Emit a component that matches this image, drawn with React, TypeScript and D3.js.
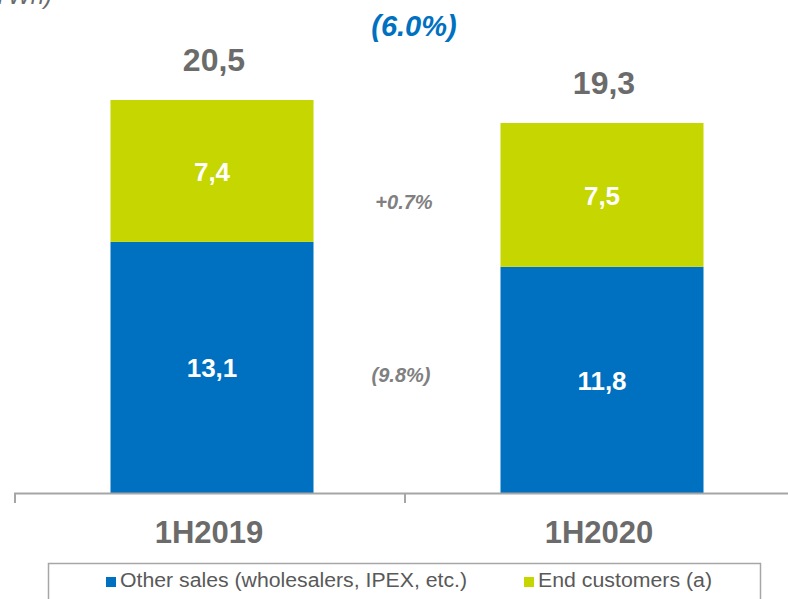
import React, { useEffect, useRef } from 'react'
import * as d3 from 'd3'

const categories = ['1H2019', '1H2020']
const otherSales = [13.1, 11.8]
const endCustomers = [7.4, 7.5]
const totals = [20.5, 19.3]
const seriesNames = ['Other sales (wholesalers, IPEX, etc.)', 'End customers (a)']
const changeTotal = '(6.0%)'
const changeEnd = '+0.7%'
const changeOther = '(9.8%)'

const BLUE = '#0070C0'
const GREEN = '#C5D600'
const GREY = '#6b6b6b'
const FONT = '"Liberation Sans", Arial, sans-serif'

const fmt = (v: number) => v.toFixed(1).replace('.', ',')

const App = () => {
  const ref = useRef<SVGSVGElement | null>(null)

  useEffect(() => {
    const svg = d3.select(ref.current)
    svg.selectAll('*').remove()

    const x = d3.scaleBand().domain(categories).range([14, 794]).padding(0)
    const y = d3.scaleLinear().domain([0, 20.5]).range([493, 100])
    const barW = 203
    const barX = (c: string) => (x(c) as number) + (x.bandwidth() - barW) / 2 + 3

    // unit label cut off at the top
    svg.append('text')
      .attr('x', 52).attr('y', 4)
      .attr('text-anchor', 'end')
      .style('font', `italic 24px ${FONT}`)
      .style('fill', GREY)
      .text('(TWh)')

    // bars
    const g = svg.append('g')
    categories.forEach((c, i) => {
      g.append('rect')
        .attr('x', barX(c)).attr('width', barW)
        .attr('y', y(otherSales[i])).attr('height', y(0) - y(otherSales[i]))
        .style('fill', BLUE)
      g.append('rect')
        .attr('x', barX(c)).attr('width', barW)
        .attr('y', y(otherSales[i] + endCustomers[i]))
        .attr('height', y(otherSales[i]) - y(otherSales[i] + endCustomers[i]))
        .style('fill', GREEN)

      const cx = barX(c) + barW / 2
      g.append('text')
        .attr('x', cx).attr('y', (y(0) + y(otherSales[i])) / 2 + 10)
        .attr('text-anchor', 'middle')
        .style('font', `bold 26px ${FONT}`).style('fill', '#fff')
        .text(fmt(otherSales[i]))
      g.append('text')
        .attr('x', cx).attr('y', (y(otherSales[i]) + y(otherSales[i] + endCustomers[i])) / 2 + 10)
        .attr('text-anchor', 'middle')
        .style('font', `bold 26px ${FONT}`).style('fill', '#fff')
        .text(fmt(endCustomers[i]))
      g.append('text')
        .attr('x', cx + 2).attr('y', y(totals[i]) - 29)
        .attr('text-anchor', 'middle')
        .style('font', `bold 32px ${FONT}`).style('fill', GREY)
        .text(fmt(totals[i]))

      g.append('text')
        .attr('x', (x(c) as number) + x.bandwidth() / 2).attr('y', 543)
        .attr('text-anchor', 'middle')
        .style('font', `bold 31px ${FONT}`).style('fill', GREY)
        .text(c)
    })

    // axis
    svg.append('line')
      .attr('x1', 14).attr('x2', 788).attr('y1', 493.5).attr('y2', 493.5)
      .style('stroke', '#a6a6a6').style('stroke-width', 2)
    categories.concat(['end']).forEach((c, i) => {
      const tx = i < categories.length ? (x(c) as number) : 794
      svg.append('line')
        .attr('x1', tx + 1).attr('x2', tx + 1).attr('y1', 493).attr('y2', 503)
        .style('stroke', '#a6a6a6').style('stroke-width', 2)
    })

    // change annotations
    const midX = x(categories[1]) as number
    svg.append('text')
      .attr('x', 414).attr('y', 36).attr('text-anchor', 'middle')
      .style('font', `italic bold 29px ${FONT}`).style('fill', BLUE)
      .text(changeTotal)
    svg.append('text')
      .attr('x', midX).attr('y', 209).attr('text-anchor', 'middle')
      .style('font', `italic bold 20px ${FONT}`).style('fill', '#808080')
      .text(changeEnd)
    svg.append('text')
      .attr('x', midX - 3).attr('y', 382).attr('text-anchor', 'middle')
      .style('font', `italic bold 20px ${FONT}`).style('fill', '#808080')
      .text(changeOther)

    // legend
    svg.append('rect')
      .attr('x', 48.5).attr('y', 563.5).attr('width', 712).attr('height', 60)
      .style('fill', 'none').style('stroke', '#a6a6a6').style('stroke-width', 1.5)
    const legendX = [106, 524]
    const legendW = [347, 174]
    const colors = [BLUE, GREEN]
    seriesNames.forEach((n, i) => {
      svg.append('rect')
        .attr('x', legendX[i]).attr('y', 577).attr('width', 10).attr('height', 10)
        .style('fill', colors[i])
      svg.append('text')
        .attr('x', legendX[i] + 14).attr('y', 587)
        .attr('textLength', legendW[i])
        .attr('lengthAdjust', 'spacingAndGlyphs')
        .style('font', `20px ${FONT}`).style('fill', '#595959')
        .text(n)
    })
  }, [])

  return (
    <div style={{ position: 'absolute', top: 0, left: 0 }}>
      <svg ref={ref} width={788} height={599} style={{ display: 'block' }} />
    </div>
  )
}

export default App
